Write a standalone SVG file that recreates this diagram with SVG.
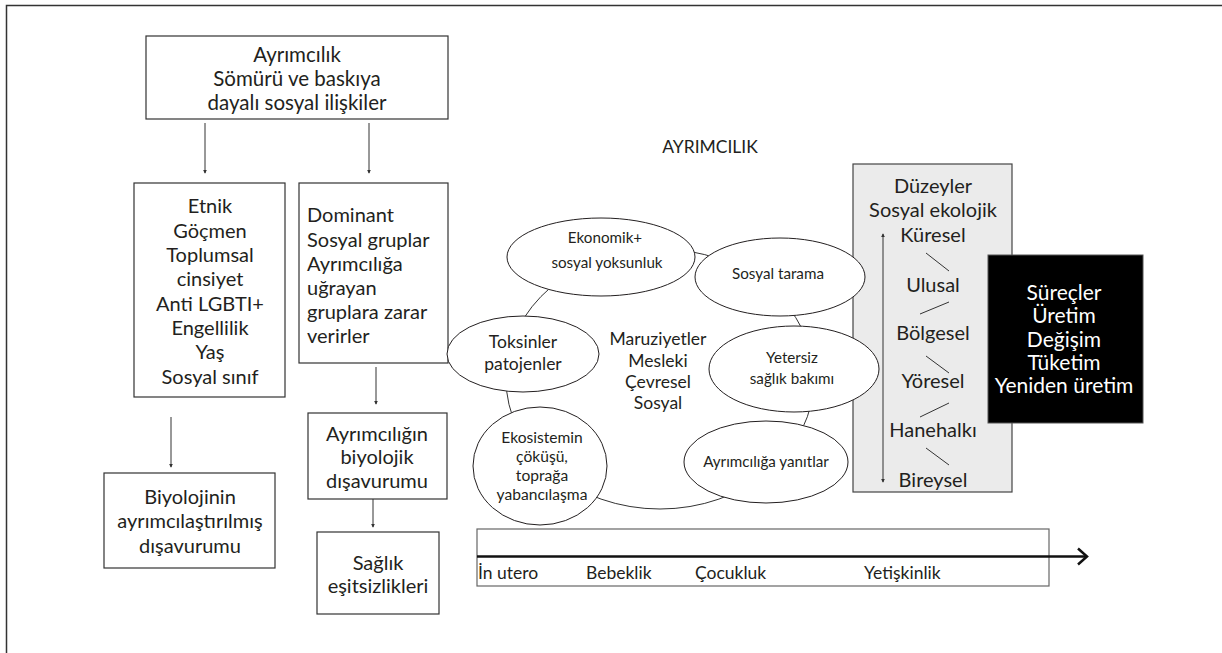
<svg xmlns="http://www.w3.org/2000/svg" width="1222" height="653" viewBox="0 0 1222 653">
<style>
  text { font-family: Lato, "Open Sans", "DejaVu Sans", sans-serif; fill: #231f20; text-anchor: middle; }
  .box { fill: #ffffff; stroke: #333333; stroke-width: 1.2; }
  .ell { fill: #ffffff; stroke: #231f20; stroke-width: 1; }
  .conn { stroke: #333333; stroke-width: 1; fill: none; }
  .lvl { stroke: #333333; stroke-width: 1; }
  .t20 { font-size: 20px; }
  .t21 { font-size: 20.5px; }
  .t17 { font-size: 17.5px; }
  .t15 { font-size: 15.2px; }
  .tl { font-size: 17.5px; }
  .left { text-anchor: start; }
  .wt { fill: #ffffff; }
</style>
<defs>
  <marker id="ah" viewBox="0 0 6 6" refX="5" refY="3" markerWidth="4" markerHeight="4" orient="auto-start-reverse" markerUnits="userSpaceOnUse">
    <path d="M0,0 L6,3 L0,6 z" fill="#333333"/>
  </marker>
</defs>

<rect width="1222" height="653" fill="#ffffff"/>
<path d="M6.5,653 V5.5 H1222" fill="none" stroke="#333333" stroke-width="1.5"/>

<g id="connectors">
  <line class="conn" x1="205" y1="123" x2="205" y2="173" marker-end="url(#ah)"/>
  <line class="conn" x1="369" y1="123" x2="369" y2="173" marker-end="url(#ah)"/>
  <line class="conn" x1="376" y1="367" x2="376" y2="404" marker-end="url(#ah)"/>
  <line class="conn" x1="171" y1="417" x2="171" y2="467" marker-end="url(#ah)"/>
  <line class="conn" x1="373" y1="499" x2="373" y2="527" marker-end="url(#ah)"/>
  <ellipse class="conn" cx="660" cy="379" rx="154" ry="130"/>
</g>

<g id="n-ayrimcilik-top">
  <rect class="box" x="146" y="36" width="302" height="83"/>
  <text class="t21" x="297" y="62">Ayrımcılık</text>
  <text class="t21" x="297" y="86">Sömürü ve baskıya</text>
  <text class="t21" x="297" y="110">dayalı sosyal ilişkiler</text>
</g>

<g id="n-gruplar">
  <rect class="box" x="134" y="183" width="151" height="214"/>
  <text class="t20" x="210" y="213">Etnik</text>
  <text class="t20" x="210" y="237.5">Göçmen</text>
  <text class="t20" x="210" y="262">Toplumsal</text>
  <text class="t20" x="210" y="286">cinsiyet</text>
  <text class="t20" x="210" y="310.5">Anti LGBTI+</text>
  <text class="t20" x="210" y="335">Engellilik</text>
  <text class="t20" x="210" y="359">Yaş</text>
  <text class="t20" x="210" y="383.5">Sosyal sınıf</text>
</g>

<g id="n-dominant">
  <rect class="box" x="299" y="183" width="149" height="180"/>
  <text class="t20 left" x="307" y="222">Dominant</text>
  <text class="t20 left" x="307" y="246.5">Sosyal gruplar</text>
  <text class="t20 left" x="307" y="271">Ayrımcılığa</text>
  <text class="t20 left" x="307" y="295">uğrayan</text>
  <text class="t20 left" x="307" y="319">gruplara zarar</text>
  <text class="t20 left" x="307" y="343">verirler</text>
</g>

<g id="n-biyolojinin">
  <rect class="box" x="104" y="473" width="171" height="95"/>
  <text class="t20" x="190" y="504">Biyolojinin</text>
  <text class="t20" x="190" y="528">ayrımcılaştırılmış</text>
  <text class="t20" x="190" y="553">dışavurumu</text>
</g>

<g id="n-biyolojik">
  <rect class="box" x="308" y="413" width="139" height="86"/>
  <text class="t20" x="377" y="441">Ayrımcılığın</text>
  <text class="t20" x="377" y="464">biyolojik</text>
  <text class="t20" x="377" y="488">dışavurumu</text>
</g>

<g id="n-saglik">
  <rect class="box" x="317" y="532" width="122" height="82"/>
  <text class="t20" x="378" y="570">Sağlık</text>
  <text class="t20" x="378" y="593">eşitsizlikleri</text>
</g>

<g id="n-ayrimcilik-label">
  <text x="710" y="153" style="font-size:17.5px">AYRIMCILIK</text>
</g>

<g id="n-duzeyler">
  <rect x="853" y="164" width="159" height="328" fill="#ebebeb" stroke="#444444" stroke-width="1.2"/>
  <text class="t20" x="933" y="193">Düzeyler</text>
  <text class="t20" x="933" y="217">Sosyal ekolojik</text>
  <text class="t20" x="933" y="242">Küresel</text>
  <text class="t20" x="933" y="292">Ulusal</text>
  <text class="t20" x="933" y="340">Bölgesel</text>
  <text class="t20" x="933" y="388">Yöresel</text>
  <text class="t20" x="933" y="437">Hanehalkı</text>
  <text class="t20" x="933" y="487">Bireysel</text>
  <line class="lvl" x1="926" y1="253" x2="949" y2="271"/>
  <line class="lvl" x1="949" y1="302" x2="920" y2="314"/>
  <line class="lvl" x1="926" y1="356" x2="949" y2="373"/>
  <line class="lvl" x1="949" y1="403" x2="920" y2="417"/>
  <line class="lvl" x1="926" y1="448" x2="949" y2="465"/>
  <line class="conn" x1="883" y1="234" x2="883" y2="482" marker-start="url(#ah)" marker-end="url(#ah)"/>
</g>

<g id="n-ekonomik">
  <ellipse class="ell" cx="601" cy="257" rx="94" ry="39"/>
  <text class="t15" x="605" y="243">Ekonomik+</text>
  <text class="t15" x="607" y="268">sosyal yoksunluk</text>
</g>

<g id="n-sosyal-tarama">
  <ellipse class="ell" cx="780" cy="277" rx="85" ry="39"/>
  <text class="t15" x="778" y="279">Sosyal tarama</text>
</g>

<g id="n-yetersiz">
  <ellipse class="ell" cx="794" cy="369" rx="85" ry="43"/>
  <text class="t15" x="792" y="363">Yetersiz</text>
  <text class="t15" x="792" y="384">sağlık bakımı</text>
</g>

<g id="n-yanitlar">
  <ellipse class="ell" cx="766" cy="462" rx="82" ry="41"/>
  <text class="t15" x="766" y="467">Ayrımcılığa yanıtlar</text>
</g>

<g id="n-toksinler">
  <ellipse class="ell" cx="523" cy="354" rx="76" ry="38"/>
  <text class="t17" x="523" y="348">Toksinler</text>
  <text class="t17" x="523" y="370">patojenler</text>
</g>

<g id="n-ekosistem">
  <ellipse class="ell" cx="540" cy="466" rx="67" ry="59"/>
  <text x="542" y="443" style="font-size:15.6px">Ekosistemin</text>
  <text x="542" y="462" style="font-size:15.6px">çöküşü,</text>
  <text x="542" y="481" style="font-size:15.6px">toprağa</text>
  <text x="542" y="500" style="font-size:15.6px">yabancılaşma</text>
</g>

<g id="n-maruziyetler">
  <text class="t17" x="658" y="345">Maruziyetler</text>
  <text class="t17" x="658" y="367">Mesleki</text>
  <text class="t17" x="658" y="388">Çevresel</text>
  <text class="t17" x="658" y="409">Sosyal</text>
</g>

<g id="n-surecler">
  <rect x="988" y="255" width="155" height="168" fill="#000000" stroke="#555555" stroke-width="1"/>
  <text class="wt" x="1064" y="300" style="font-size:21px">Süreçler</text>
  <text class="wt" x="1064" y="323" style="font-size:21px">Üretim</text>
  <text class="wt" x="1064" y="347" style="font-size:21px">Değişim</text>
  <text class="wt" x="1064" y="370" style="font-size:21px">Tüketim</text>
  <text class="wt" x="1064" y="393" style="font-size:21px">Yeniden üretim</text>
</g>

<g id="n-timeline">
  <rect x="477" y="529" width="572" height="57" fill="none" stroke="#666666" stroke-width="1.2"/>
  <line x1="477" y1="556.5" x2="1086" y2="556.5" stroke="#111111" stroke-width="2.5"/>
  <path d="M1078,548.5 L1087,556.5 L1078,564.5" fill="none" stroke="#111111" stroke-width="2.5"/>
  <text class="tl left" x="478" y="579">İn utero</text>
  <text class="tl left" x="586" y="579">Bebeklik</text>
  <text class="tl left" x="695" y="579">Çocukluk</text>
  <text class="tl left" x="864" y="579">Yetişkinlik</text>
</g>
</svg>
